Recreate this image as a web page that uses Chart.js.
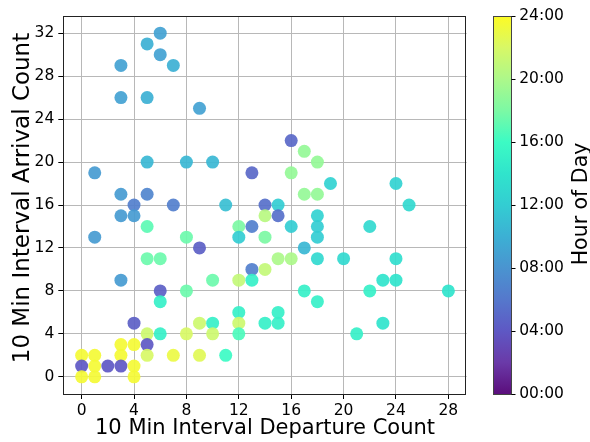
<!DOCTYPE html>
<html>
<head>
<meta charset="utf-8">
<script src="https://cdn.jsdelivr.net/npm/chart.js@4/dist/chart.umd.min.js"></script>
<style>
  html, body { margin: 0; padding: 0; background: #fff; }
  #wrap { width: 590px; height: 442px; position: relative; }
</style>
</head>
<body>
<div id="wrap"><canvas id="myChart"></canvas></div>
<script>
// departures per 10 min (x), arrivals per 10 min (y), hour of day (colour)
const departures = [6, 5, 6, 3, 7, 3, 5, 9, 5, 8, 10, 1, 13, 3, 5, 4, 7, 11, 14, 15,
  16, 17, 18, 16, 19, 24, 17, 18, 25, 14, 3, 4, 5, 12, 13, 1, 8, 12, 14, 9,
  5, 6, 13, 14, 3, 10, 12, 13, 6, 8, 6, 12, 4, 9, 10, 12, 14, 5, 6, 8,
  10, 12, 3, 4, 5, 0, 1, 3, 5, 7, 9, 11, 0, 1, 2, 3, 4, 0, 1, 4,
  15, 18, 16, 18, 22, 18, 17, 15, 16, 18, 20, 24, 23, 24, 17, 22, 28, 18, 15, 15,
  23, 21];
const arrivals = [32, 31, 30, 29, 29, 26, 26, 25, 20, 20, 20, 19, 19, 17, 17, 16, 16, 16, 16, 16,
  22, 21, 20, 19, 18, 18, 17, 17, 16, 15, 15, 15, 14, 14, 14, 13, 13, 13, 13, 12,
  11, 11, 10, 10, 9, 9, 9, 9, 8, 8, 7, 6, 5, 5, 5, 5, 5, 4, 4, 4,
  4, 4, 3, 3, 3, 2, 2, 2, 2, 2, 2, 2, 1, 1, 1, 1, 1, 0, 0, 0,
  15, 15, 14, 14, 14, 13, 12, 11, 11, 11, 11, 11, 9, 9, 8, 8, 8, 7, 6, 5,
  5, 4];
const hours = [9, 10, 9, 9, 10, 9, 10, 9, 10.5, 10.5, 10.5, 8.5, 5, 8.5, 7, 6.5, 6.5, 11, 5.5, 12,
  5, 19, 19, 19, 12.5, 12.5, 19, 19, 13, 20.5, 8.5, 8.5, 17, 18, 6.5, 8.5, 17.5, 12, 18, 4.5,
  17.5, 17.5, 6.5, 21, 8.5, 17.5, 21, 15, 4.5, 17.5, 15, 15, 4.5, 21.5, 15, 21.5, 15, 21.5, 15, 22,
  21.5, 16.5, 23.5, 23.5, 4, 23.5, 23.5, 23.5, 22, 23, 22.5, 16, 4, 23.5, 4, 4, 23.5, 23.5, 23.5, 23.5,
  5.5, 12.5, 12, 12, 13, 12, 10.5, 20, 20, 13, 13, 13.5, 14, 14, 15, 15, 14, 15, 15, 15,
  14, 15];

const xTicks = [0, 4, 8, 12, 16, 20, 24, 28];
const yTicks = [0, 4, 8, 12, 16, 20, 24, 28, 32];
const hourTicks = [0, 4, 8, 12, 16, 20, 24];

// colour ramp, one stop every two hours from 00:00 to 24:00
const rampStops = ['#5b0e7c', '#6a3aa8', '#5e58c4', '#5578cc', '#4a94d0', '#3cb0d4', '#33cdd2',
  '#30e4cc', '#3cfbc4', '#7cf9a4', '#adf88a', '#d8f866', '#fdfb24'];

function hexToRgb(h) {
  return [parseInt(h.slice(1, 3), 16), parseInt(h.slice(3, 5), 16), parseInt(h.slice(5, 7), 16)];
}

function hourColor(h, alpha) {
  const t = Math.max(0, Math.min(1, h / 24)) * (rampStops.length - 1);
  const i = Math.min(Math.floor(t), rampStops.length - 2);
  const f = t - i;
  const a = hexToRgb(rampStops[i]);
  const b = hexToRgb(rampStops[i + 1]);
  const c = a.map((v, k) => Math.round(v + (b[k] - v) * f));
  return 'rgba(' + c[0] + ',' + c[1] + ',' + c[2] + ',' + alpha + ')';
}

const points = departures.map((x, i) => ({ x: x, y: arrivals[i] }));
const FONT = 'DejaVu Sans';

// frame, y title, colour bar and its label
const extras = {
  id: 'extras',
  afterDraw(chart) {
    const ctx = chart.ctx;
    const area = chart.chartArea;
    ctx.save();
    ctx.strokeStyle = '#222';
    ctx.lineWidth = 1;
    ctx.strokeRect(Math.round(area.left) + 0.5, Math.round(area.top) + 0.5,
      Math.round(area.right - area.left) - 1, Math.round(area.bottom - area.top));

    // y axis title
    ctx.fillStyle = '#000';
    ctx.font = '23px "' + FONT + '"';
    ctx.textAlign = 'center';
    ctx.textBaseline = 'middle';
    ctx.translate(23, 198);
    ctx.rotate(-Math.PI / 2);
    ctx.fillText('10 Min Interval Arrival Count', 0, 0);
    ctx.restore();

    // colour bar
    const hs = chart.scales.hour;
    const top = hs.getPixelForValue(24);
    const bottom = hs.getPixelForValue(0);
    const bx = 493.5, bw = 18;
    const grad = ctx.createLinearGradient(0, bottom, 0, top);
    rampStops.forEach((c, i) => grad.addColorStop(i / (rampStops.length - 1), c));
    ctx.save();
    ctx.fillStyle = grad;
    ctx.fillRect(bx, top, bw, bottom - top);
    ctx.strokeStyle = '#444';
    ctx.lineWidth = 1;
    ctx.strokeRect(bx, Math.round(top) + 0.5, bw, Math.round(bottom - top));
    ctx.strokeStyle = '#000';
    hourTicks.forEach(v => {
      const y = Math.round(hs.getPixelForValue(v)) + 0.5;
      ctx.beginPath();
      ctx.moveTo(bx + bw, y);
      ctx.lineTo(bx + bw + 4, y);
      ctx.stroke();
    });
    ctx.fillStyle = '#000';
    ctx.font = '20.5px "' + FONT + '"';
    ctx.textAlign = 'center';
    ctx.textBaseline = 'middle';
    ctx.translate(582, 204);
    ctx.rotate(-Math.PI / 2);
    ctx.fillText('Hour of Day', 0, 0);
    ctx.restore();
  }
};

new Chart(document.getElementById('myChart'), {
  type: 'scatter',
  data: {
    datasets: [{
      data: points,
      backgroundColor: ctx => hourColor(hours[ctx.dataIndex], 0.92),
      borderWidth: 0,
      pointRadius: 6.5,
      pointHoverRadius: 6.5
    }]
  },
  options: {
    responsive: true,
    maintainAspectRatio: false,
    animation: false,
    devicePixelRatio: 1,
    layout: { padding: { top: 16, right: 0, bottom: 0, left: 0 } },
    plugins: {
      legend: { display: false },
      tooltip: { enabled: false }
    },
    scales: {
      x: {
        type: 'linear',
        min: -1.4,
        max: 29.4,
        afterBuildTicks: scale => { scale.ticks = xTicks.map(v => ({ value: v })); },
        afterFit: scale => { scale.height = 48; },
        grid: { color: '#b8b8b8', lineWidth: 1, tickColor: '#000', tickLength: 5 },
        border: { display: false },
        ticks: {
          color: '#000', padding: 3, maxRotation: 0,
          font: { family: FONT, size: 15.5 }
        },
        title: {
          display: true,
          text: '10 Min Interval Departure Count',
          color: '#000',
          font: { family: FONT, size: 21 },
          padding: { top: 0, bottom: 1 }
        }
      },
      y: {
        type: 'linear',
        min: -1.6,
        max: 33.6,
        afterBuildTicks: scale => { scale.ticks = yTicks.map(v => ({ value: v })); },
        afterFit: scale => { scale.width = 63.3; },
        grid: { color: '#b8b8b8', lineWidth: 1, tickColor: '#000', tickLength: 5 },
        border: { display: false },
        ticks: {
          color: '#000', padding: 4,
          font: { family: FONT, size: 15.5 }
        }
      },
      hour: {
        axis: 'y',
        type: 'linear',
        position: 'right',
        min: 0,
        max: 24,
        afterBuildTicks: scale => { scale.ticks = hourTicks.map(v => ({ value: v })); },
        afterFit: scale => { scale.width = 123.3; },
        // invisible tick marks only push the labels past the colour bar
        grid: { display: false, drawTicks: true, tickLength: 48 },
        border: { display: false },
        ticks: {
          color: '#000', padding: 4.5,
          font: { family: FONT, size: 15.5 },
          callback: v => String(v).padStart(2, '0') + ':00'
        }
      }
    }
  },
  plugins: [extras]
});
</script>
</body>
</html>
